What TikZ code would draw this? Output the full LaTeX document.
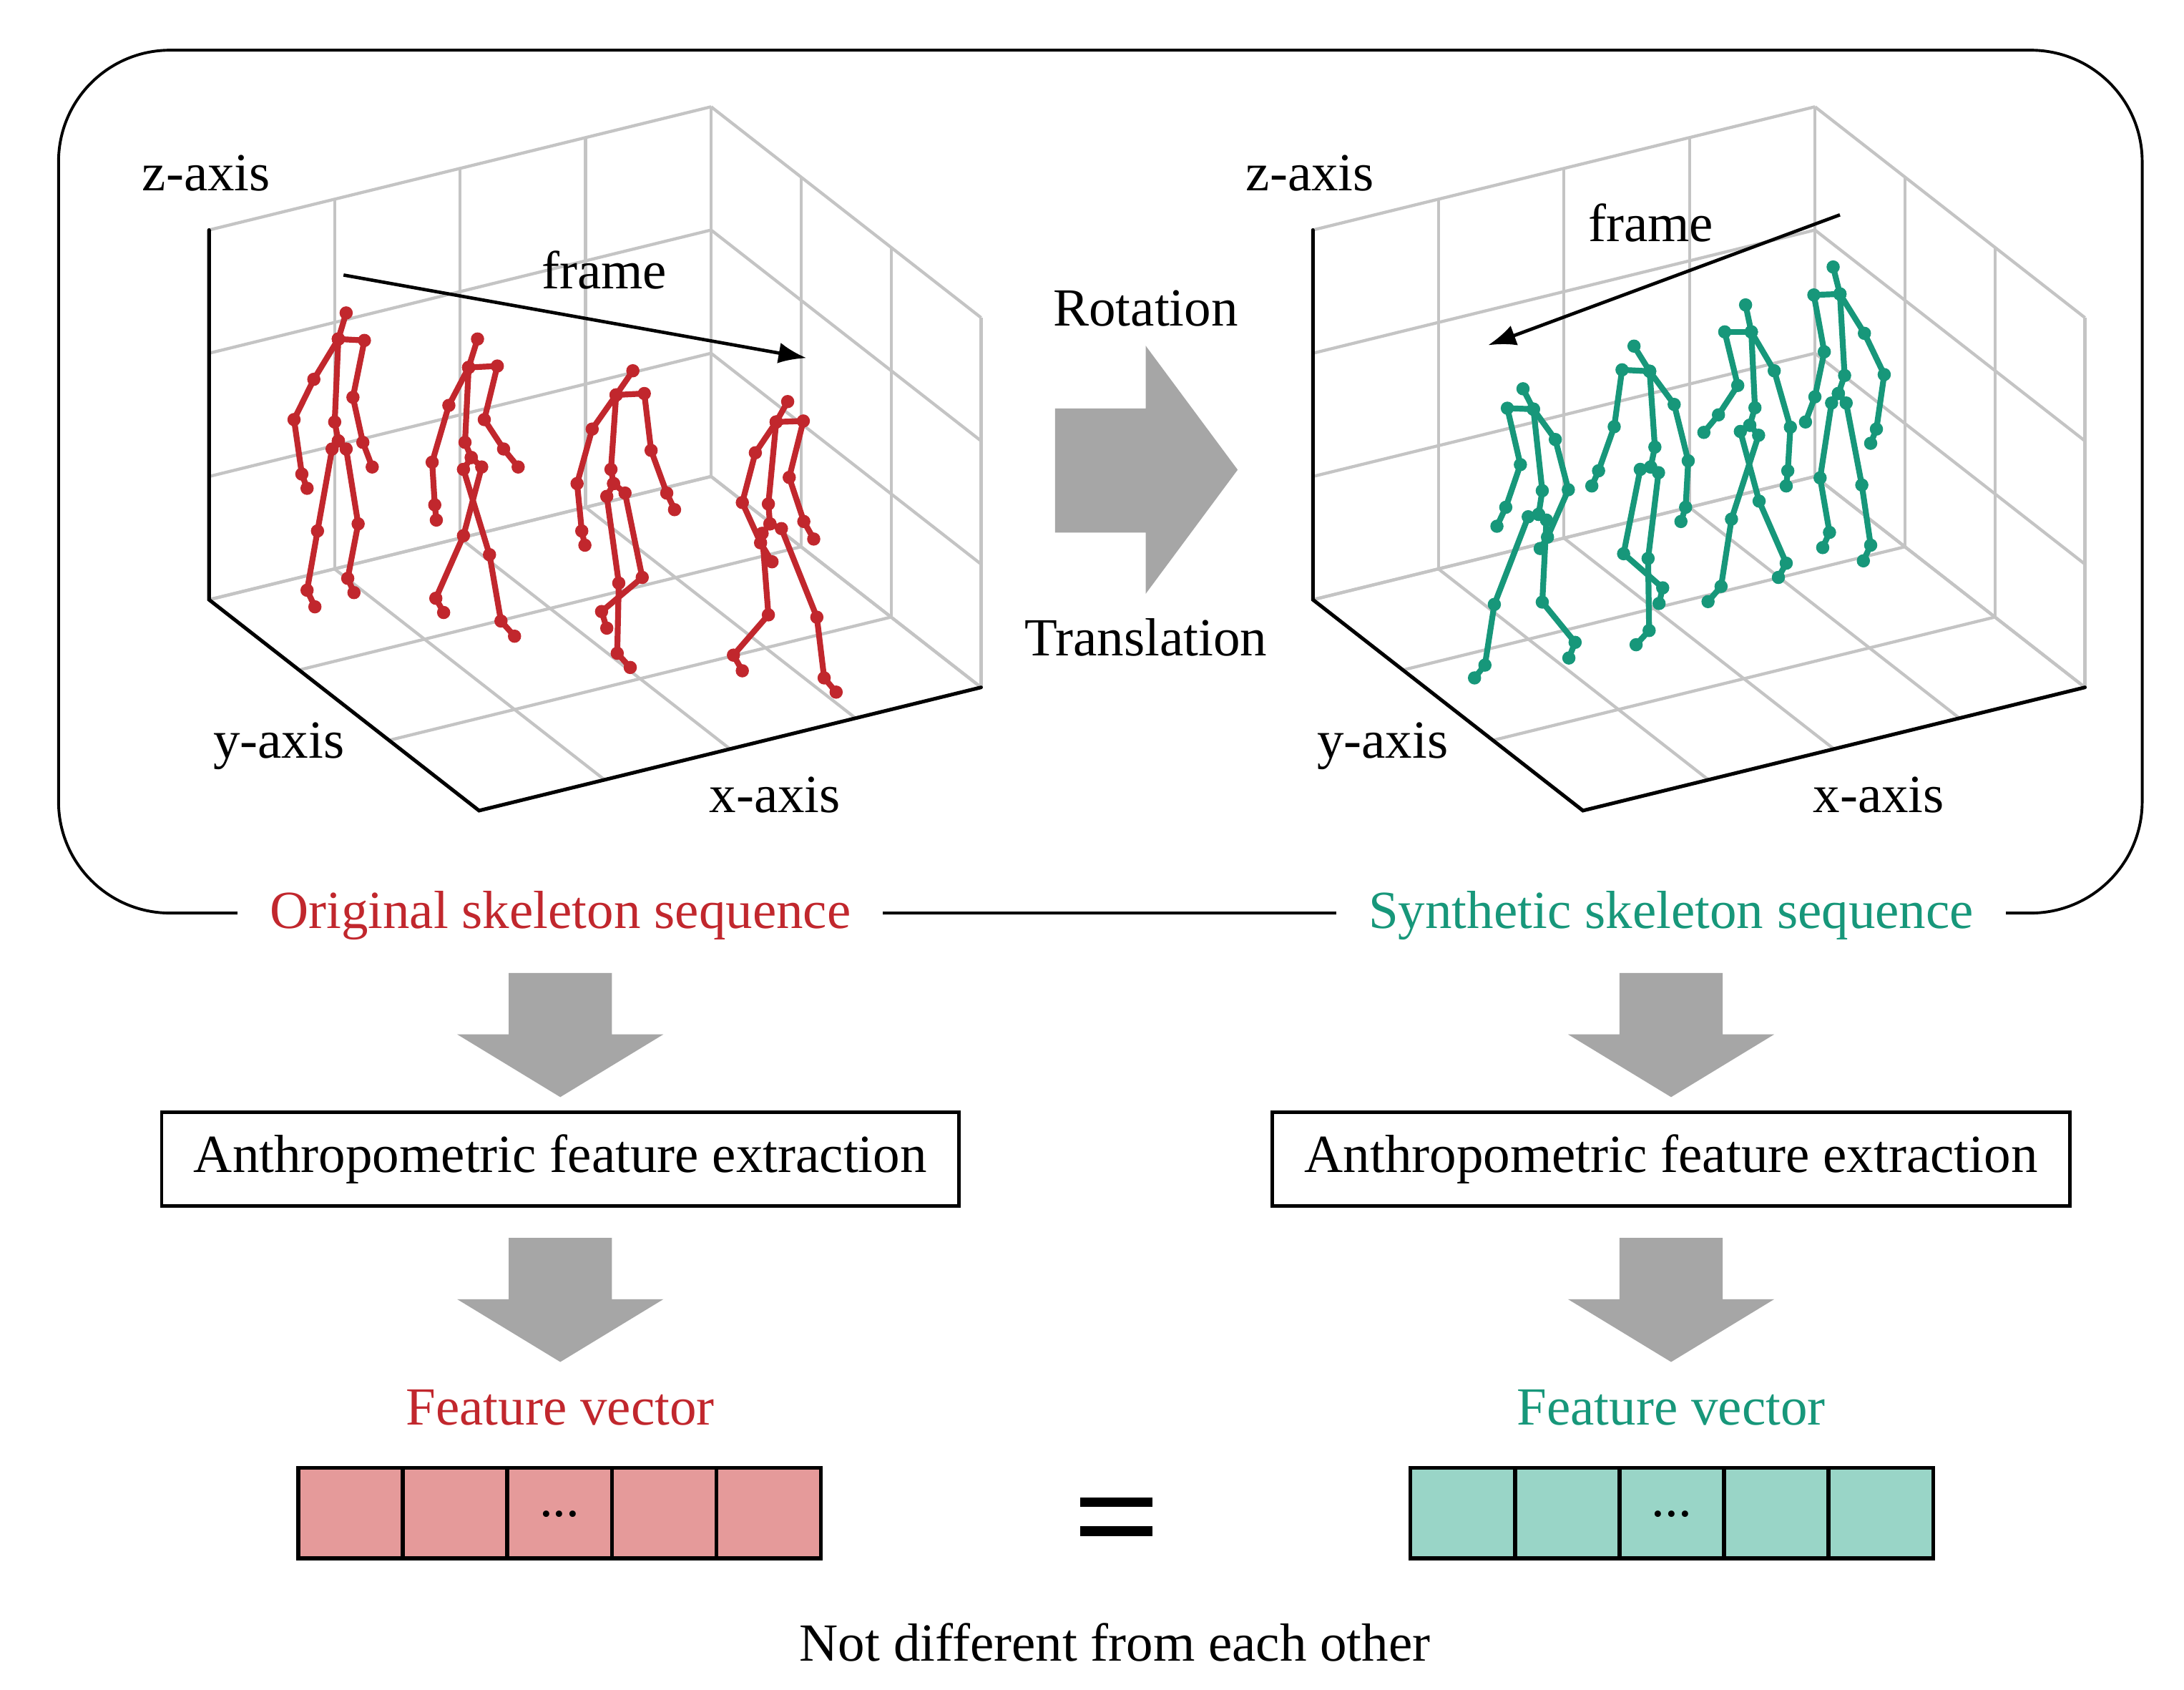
\documentclass[tikz,border=0pt]{standalone}
\usepackage{fontspec}
\setmainfont{Liberation Serif}
\usetikzlibrary{arrows.meta}
\definecolor{cred}{HTML}{C1272D}
\definecolor{cgreen}{HTML}{17977A}
\definecolor{cpink}{HTML}{E59A9A}
\definecolor{cmint}{HTML}{99D5C7}
\definecolor{cgray}{HTML}{A6A6A6}
\definecolor{cgrid}{HTML}{C4C4C4}
\tikzset{
  txt/.style={font=\fontsize{38.5}{44}\selectfont, inner sep=0pt},
  grid/.style={draw=cgrid, line width=2.2pt},
  axis/.style={draw=black, line width=2.6pt, line cap=round},
  bone/.style={line width=4.2pt, line cap=round},
  joint/.style={circle, inner sep=0pt, minimum size=9.5pt},
  farrow/.style={draw=black, line width=2.4pt, -{Latex[length=20pt,width=15pt]}},
  blk/.style={fill=cgray, draw=none},
  fbox/.style={draw=black, line width=2.5pt, minimum width=572pt, minimum height=67pt, txt},
}
\newcommand\chain[2]{%
  \foreach \x/\y [remember=\x as \px (initially N), remember=\y as \py (initially N)] in {#2} {%
    \ifx\px\myN\else \draw[bone,#1] (\px,\py) -- (\x,\y);\fi
    \node[joint,fill=#1] at (\x,\y) {};
  }}
\def\myN{N}
\newcommand\mygrid{%
  \foreach \a in {0,...,4} {\draw[grid] (\a,0,0) -- (\a,3,0); \draw[grid] (\a,0,0) -- (\a,0,3);}
  \foreach \c in {0,...,3} {\draw[grid] (0,\c,0) -- (4,\c,0); \draw[grid] (4,\c,0) -- (4,\c,3);}
  \foreach \b in {0,...,3} {\draw[grid] (4,0,\b) -- (4,3,\b); \draw[grid] (0,0,\b) -- (4,0,\b);}
  \draw[axis] (0,3,0) -- (0,0,0) -- (0,0,3) -- (4,0,3);
}
\newcommand\mydnarrow[2]{% center x, top y
  \fill[blk] (#1-37,#2) -- (#1+37,#2) -- (#1+37,#2+44) -- (#1+74,#2+44) -- (#1,#2+89) -- (#1-74,#2+44) -- (#1-37,#2+44) -- cycle;}
\begin{document}
\begin{tikzpicture}[x=1pt,y=-1pt]
\useasboundingbox (0,0) rectangle (1567,1212);
\fill[white] (0,0) rectangle (1567,1212);

% outer rounded frame
\draw[line width=2pt, rounded corners=80pt] (42,36) rectangle (1537,655);
\node[txt, text=cred, fill=white, inner xsep=23pt, inner ysep=6pt] (orig) at (402,657) {Original skeleton sequence};
\node[txt, text=cgreen, fill=white, inner xsep=23pt, inner ysep=6pt] (synt) at (1199,657) {Synthetic skeleton sequence};

% grids
\foreach \dx in {0,792} {
\begin{scope}[shift={(150+\dx,430.2)}, x={(90.05pt,22.1pt)}, y={(0pt,88.4pt)}, z={(64.57pt,-50.43pt)}]
  \mygrid
\end{scope}
}

% left skeletons
\begin{scope}[shift={(134.3,63)}, xscale=0.374, yscale=0.34]
 \chain{cred}{305/475, 290/530, 340/533, 318/653, 337/748, 355/800}
 \chain{cred}{290/530, 243/615, 205/700, 220/815, 230/845}
 \chain{cred}{290/530, 283/705, 290/745, 278/762, 250/935, 230/1060, 245/1095}
 \chain{cred}{290/745, 305/762, 328/920, 308/1035, 320/1065}
 \chain{cred}{557/530, 540/590, 595/587, 570/700, 607/762, 635/800}
 \chain{cred}{540/590, 502/670, 470/790, 475/880, 478/912}
 \chain{cred}{540/590, 533/748, 545/780, 530/805, 580/985, 602/1125, 628/1157}
 \chain{cred}{545/780, 565/800, 530/945, 477/1077, 492/1107}
 \chain{cred}{855/597, 823/648, 877/645, 890/765, 920/855, 935/890}
 \chain{cred}{823/648, 777/720, 748/835, 757/935, 763/965}
 \chain{cred}{823/648, 813/805, 818/835, 805/862, 828/1045, 825/1193, 850/1223}
 \chain{cred}{818/835, 840/855, 873/1033, 795/1105, 805/1140}
 \chain{cred}{1152/662, 1130/705, 1182/703, 1155/822, 1183/915, 1202/952}
 \chain{cred}{1130/705, 1090/770, 1065/875, 1100/960, 1122/1000}
 \chain{cred}{1130/705, 1115/878, 1118/920, 1103/940, 1115/1112, 1048/1197, 1065/1230}
 \chain{cred}{1118/920, 1140/930, 1208/1117, 1222/1245, 1245/1275}
 \coordinate (fa1) at (300,395); \coordinate (fb1) at (1188,570);
 \draw[farrow] (fa1) -- (fb1);
 \node[txt] (frame1) at (800,385) {frame};
\end{scope}

% right skeletons
\begin{scope}[shift={(926.3,63)}, xscale=0.374, yscale=0.34]
 \chain{cgreen}{445/635, 465/678, 415/676, 440/795, 412/885, 395/925}
 \chain{cgreen}{465/678, 507/742, 532/848, 492/948, 478/972}
 \chain{cgreen}{465/678, 482/850, 475/900, 455/905, 390/1090, 372/1218, 352/1245}
 \chain{cgreen}{475/900, 490/912, 482/1085, 545/1170, 533/1203}
 \chain{cgreen}{658/545, 688/598, 635/595, 620/715, 590/808, 577/840}
 \chain{cgreen}{688/598, 735/668, 762/787, 757/885, 748/915}
 \chain{cgreen}{688/598, 698/758, 690/800, 670/805, 638/983, 713/1055, 706/1088}
 \chain{cgreen}{690/800, 705/812, 685/993, 687/1145, 662/1175}
 \chain{cgreen}{872/458, 883/515, 832/515, 857/628, 820/690, 792/727}
 \chain{cgreen}{883/515, 927/597, 958/716, 953/808, 950/840}
 \chain{cgreen}{883/515, 890/675, 880/712, 862/725, 898/872, 950/1003, 935/1033}
 \chain{cgreen}{880/712, 897/733, 845/910, 825/1052, 800/1084}
 \chain{cgreen}{1040/378, 1053/435, 1003/437, 1023/557, 1005/652, 987/705}
 \chain{cgreen}{1053/435, 1100/518, 1138/605, 1123/720, 1112/750}
 \chain{cgreen}{1053/435, 1062/607, 1050/645, 1037/665, 1015/823, 1033/938, 1020/970}
 \chain{cgreen}{1050/645, 1065/665, 1095/838, 1112/965, 1098/998}
 \coordinate (fa2) at (1053,268); \coordinate (fb2) at (378,543);
 \draw[farrow] (fa2) -- (fb2);
 \node[txt] (frame2) at (690,285) {frame};
\end{scope}

% axis labels
\node[txt] (zl1) at (148,124) {z-axis};
\node[txt] (yl1) at (200,535) {y-axis};
\node[txt] (xl1) at (556,570) {x-axis};
\node[txt] (zl2) at (940,124) {z-axis};
\node[txt] (yl2) at (992,535) {y-axis};
\node[txt] (xl2) at (1348,570) {x-axis};

% middle arrow
\fill[blk] (757,293) -- (822,293) -- (822,248) -- (888,337) -- (822,426) -- (822,382) -- (757,382) -- cycle;
\node[txt] (rot) at (822,221) {Rotation};
\node[txt] (tra) at (822,457) {Translation};

% down arrows
\mydnarrow{402}{698}
\mydnarrow{1199}{698}
\mydnarrow{402}{888}
\mydnarrow{1199}{888}

\node[fbox] (ex1) at (402,831.5) {Anthropometric feature extraction};
\node[fbox] (ex2) at (1199,831.5) {Anthropometric feature extraction};

\node[txt, text=cred] (fv1) at (402,1010) {Feature vector};
\node[txt, text=cgreen] (fv2) at (1199,1010) {Feature vector};

% vectors
\foreach \x in {0,...,4} {
  \draw[fill=cpink, line width=2.8pt] (214+75*\x,1053) rectangle (289+75*\x,1118);
  \draw[fill=cmint, line width=2.8pt] (1012+75*\x,1053) rectangle (1087+75*\x,1118);
}
\node[txt] (d1) at (401.5,1086) {...};
\node[txt] (d2) at (1199.5,1086) {...};

% equals
\fill (775,1074) rectangle (827,1081);
\fill (775,1095) rectangle (827,1102);

\node[txt] (nd) at (800,1178) {Not different from each other};
\end{tikzpicture}
\end{document}
